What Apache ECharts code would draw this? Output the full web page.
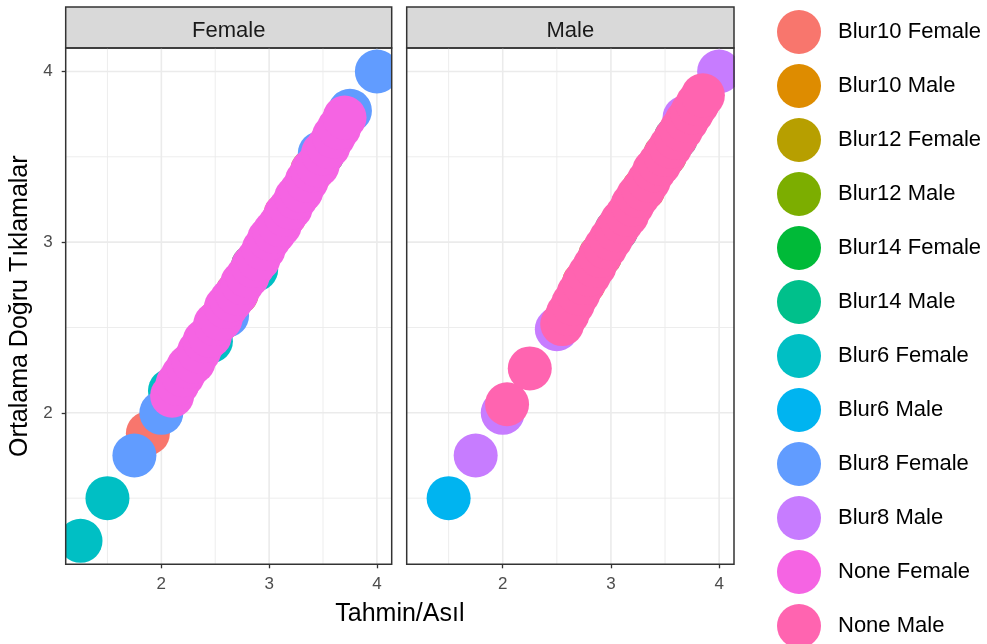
<!DOCTYPE html>
<html>
<head>
<meta charset="utf-8">
<script src="https://cdn.jsdelivr.net/npm/echarts@6/dist/echarts.min.js"></script>
<style>
  html, body { margin: 0; padding: 0; background: #ffffff; }
  #chart { width: 987px; height: 644px; }
</style>
</head>
<body>
<div id="chart"></div>
<script>
// Facet panels
const panels = ['Female', 'Male'];

// Groups (legend order) and their hue colours
const groupNames = [
  'Blur10 Female', 'Blur10 Male', 'Blur12 Female', 'Blur12 Male',
  'Blur14 Female', 'Blur14 Male', 'Blur6 Female', 'Blur6 Male',
  'Blur8 Female', 'Blur8 Male', 'None Female', 'None Male'
];
const groupColors = [
  '#F8766D', '#DE8C00', '#B79F00', '#7CAE00',
  '#00BA38', '#00C08B', '#00BFC4', '#00B4F0',
  '#619CFF', '#C77CFF', '#F564E3', '#FF64B0'
];

// [Tahmin/Asıl, Ortalama Doğru Tıklamalar] per group
const blur10Female = [[1.875, 1.88], [2.55, 2.55], [3.15, 3.16]];
const blur10Male   = [[2.75, 2.76], [3.3, 3.31]];
const blur12Female = [[2.7, 2.7], [3.4, 3.42]];
const blur12Male   = [[2.9, 2.92], [3.5, 3.51]];
const blur14Female = [[2.85, 2.86], [3.5, 3.52]];
const blur14Male   = [[3.05, 3.07], [3.6, 3.61]];
const blur6Female  = [[1.25, 1.25], [1.5, 1.5], [2.08, 2.13], [2.46, 2.42], [2.88, 2.84]];
const blur6Male    = [[1.5, 1.5]];
const blur8Female  = [[1.75, 1.75], [2, 2], [2.61, 2.57], [3.47, 3.52], [3.75, 3.77], [4, 4]];
const blur8Male    = [[1.75, 1.75], [2, 2], [2.5, 2.49], [3.68, 3.73], [4, 4]];
const noneFemale = [
  [2.1, 2.1], [2.15, 2.17], [2.2, 2.22], [2.25, 2.27], [2.3, 2.3], [2.35, 2.36],
  [2.4, 2.42], [2.45, 2.45], [2.5, 2.52], [2.55, 2.55], [2.6, 2.62], [2.65, 2.66],
  [2.7, 2.7], [2.75, 2.76], [2.8, 2.8], [2.85, 2.86], [2.9, 2.9], [2.95, 2.96],
  [3.0, 3.02], [3.05, 3.06], [3.1, 3.1], [3.15, 3.16], [3.2, 3.2], [3.25, 3.26],
  [3.3, 3.3], [3.35, 3.36], [3.4, 3.42], [3.45, 3.45], [3.5, 3.52], [3.55, 3.56],
  [3.6, 3.62], [3.65, 3.67], [3.7, 3.73]
];
const noneMale = [
  [2.04, 2.05], [2.25, 2.26],
  [2.55, 2.52], [2.6, 2.58], [2.65, 2.64], [2.7, 2.7], [2.75, 2.76], [2.8, 2.81],
  [2.85, 2.86], [2.9, 2.92], [2.95, 2.97], [3.0, 3.02], [3.05, 3.07], [3.1, 3.12],
  [3.15, 3.16], [3.2, 3.22], [3.25, 3.27], [3.3, 3.31], [3.35, 3.36], [3.4, 3.42],
  [3.45, 3.46], [3.5, 3.51], [3.55, 3.56], [3.6, 3.61], [3.65, 3.66], [3.7, 3.71],
  [3.75, 3.76], [3.8, 3.81], [3.85, 3.86]
];

// Axis ticks and grid lines
const tickValues = [2, 3, 4];
const minorValues = [1.5, 2.5, 3.5];

const axisTitleX = 'Tahmin/Asıl';
const axisTitleY = 'Ortalama Doğru Tıklamalar';

const groupData = [
  blur10Female, blur10Male, blur12Female, blur12Male,
  blur14Female, blur14Male, blur6Female, blur6Male,
  blur8Female, blur8Male, noneFemale, noneMale
];

const FONT = '"Liberation Sans", Arial, sans-serif';
const AXIS_MIN = 1.1125;
const AXIS_MAX = 4.1375;
const PANEL = [
  { left: 65.7, width: 326 },
  { left: 406.7, width: 327.3 }
];
const PANEL_TOP = 48;
const PANEL_H = 516.3;
const POINT_R = 22;

const grids = PANEL.map(p => ({
  left: p.left, top: PANEL_TOP, width: p.width, height: PANEL_H,
  show: true, z: 10, backgroundColor: 'transparent',
  borderColor: '#333333', borderWidth: 1.5, containLabel: false
}));

const xAxes = PANEL.map((p, i) => ({
  type: 'value', gridIndex: i, min: AXIS_MIN, max: AXIS_MAX,
  axisLine: { show: false },
  splitLine: { show: false },
  axisTick: { show: true, customValues: tickValues, length: 4, lineStyle: { color: '#333333', width: 1.3 } },
  axisLabel: { show: true, customValues: tickValues, margin: 12, color: '#4D4D4D', fontSize: 17, fontFamily: FONT }
}));

const yAxes = PANEL.map((p, i) => ({
  type: 'value', gridIndex: i, min: AXIS_MIN, max: AXIS_MAX,
  axisLine: { show: false },
  splitLine: { show: false },
  axisTick: { show: i === 0, customValues: tickValues, length: 4, lineStyle: { color: '#333333', width: 1.3 } },
  axisLabel: { show: i === 0, customValues: tickValues, margin: 13, color: '#4D4D4D', fontSize: 17, fontFamily: FONT }
}));

// Grid lines drawn through the axis scales
const gridLineRows = [];
tickValues.forEach(v => { gridLineRows.push([v, 0, 1]); gridLineRows.push([v, 1, 1]); });
minorValues.forEach(v => { gridLineRows.push([v, 0, 0]); gridLineRows.push([v, 1, 0]); });

function gridLineSeries(i) {
  return {
    type: 'custom', name: 'grid-' + i, xAxisIndex: i, yAxisIndex: i,
    silent: true, z: 1, animation: false, clip: true,
    data: gridLineRows,
    renderItem: (params, api) => {
      const cs = params.coordSys;
      const v = api.value(0), dir = api.value(1), major = api.value(2);
      let shape;
      if (dir === 0) {
        const x = api.coord([v, AXIS_MIN])[0];
        shape = { x1: x, y1: cs.y, x2: x, y2: cs.y + cs.height };
      } else {
        const y = api.coord([AXIS_MIN, v])[1];
        shape = { x1: cs.x, y1: y, x2: cs.x + cs.width, y2: y };
      }
      return {
        type: 'line', shape,
        style: { stroke: '#EBEBEB', lineWidth: major ? 1.6 : 0.9 }
      };
    }
  };
}

const pointSeries = groupNames.map((name, k) => {
  const panelIndex = name.endsWith('Female') ? 0 : 1;
  return {
    type: 'custom', name, xAxisIndex: panelIndex, yAxisIndex: panelIndex,
    z: 2, animation: false, clip: true,
    itemStyle: { color: groupColors[k] },
    encode: { x: 0, y: 1 },
    data: groupData[k],
    renderItem: (params, api) => {
      const p = api.coord([api.value(0), api.value(1)]);
      return {
        type: 'circle',
        shape: { cx: p[0], cy: p[1], r: POINT_R },
        style: { fill: api.visual('color') }
      };
    }
  };
});

const strips = panels.map((label, i) => ({
  type: 'group', z: 20,
  children: [
    {
      type: 'rect',
      shape: { x: PANEL[i].left, y: 7, width: PANEL[i].width, height: PANEL_TOP - 7 },
      style: { fill: '#D9D9D9', stroke: '#333333', lineWidth: 1.5 }
    },
    {
      type: 'text',
      x: PANEL[i].left + PANEL[i].width / 2, y: 31,
      style: { text: label, align: 'center', verticalAlign: 'middle', fill: '#1A1A1A', font: '22px ' + FONT }
    }
  ]
}));

const titles = [
  {
    type: 'text', x: (PANEL[0].left + PANEL[1].left + PANEL[1].width) / 2, y: 614,
    style: { text: axisTitleX, align: 'center', verticalAlign: 'middle', fill: '#000000', font: '25px ' + FONT }
  },
  {
    type: 'text', x: 20, y: PANEL_TOP + PANEL_H / 2, rotation: Math.PI / 2,
    style: { text: axisTitleY, align: 'center', verticalAlign: 'middle', fill: '#000000', font: '25px ' + FONT }
  }
];

const chart = echarts.init(document.getElementById('chart'), null, { renderer: 'canvas' });
chart.setOption({
  backgroundColor: '#ffffff',
  animation: false,
  grid: grids,
  xAxis: xAxes,
  yAxis: yAxes,
  legend: {
    type: 'plain',
    orient: 'vertical', left: 772, top: 5, height: 720,
    itemWidth: 44, itemHeight: 44, itemGap: 10,
    icon: 'circle',
    data: groupNames,
    selectedMode: false,
    textStyle: { fontSize: 22, color: '#000000', fontFamily: FONT, padding: [0, 0, 0, 12] }
  },
  graphic: strips.concat(titles),
  series: [gridLineSeries(0), gridLineSeries(1)].concat(pointSeries)
});
</script>
</body>
</html>
